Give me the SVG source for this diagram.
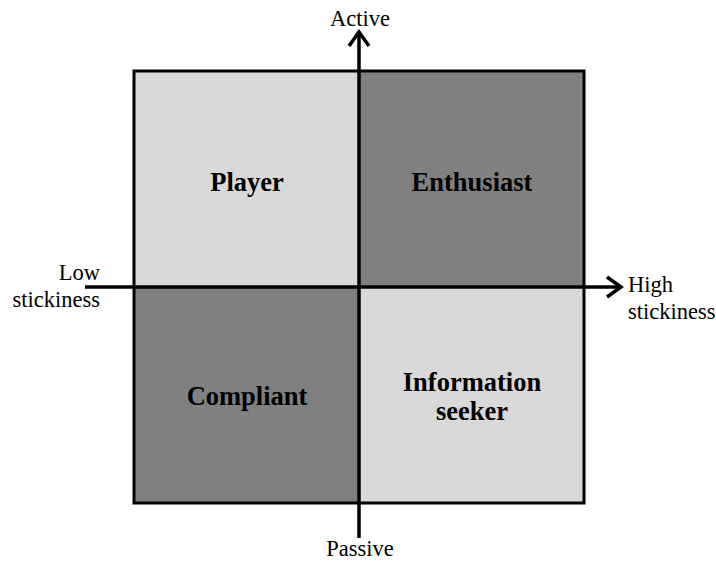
<svg xmlns="http://www.w3.org/2000/svg" width="716" height="561" viewBox="0 0 716 561">
<style>
.ax{font-family:"Liberation Serif",serif;font-size:22.5px;fill:#000}
.lb{font-family:"Liberation Serif",serif;font-size:26.5px;font-weight:bold;fill:#000;text-anchor:middle}
.light{fill:#d9d9d9}
.dark{fill:#808080}
.ln{stroke:#000;stroke-width:3.5;fill:none}
</style>
<g id="player"><rect class="light" x="134" y="71" width="225" height="216"/><text class="lb" x="247" y="191">Player</text></g>
<g id="enthusiast"><rect class="dark" x="359" y="71" width="225" height="216"/><text class="lb" x="472" y="191">Enthusiast</text></g>
<g id="compliant"><rect class="dark" x="134" y="287" width="225" height="216"/><text class="lb" x="247" y="405">Compliant</text></g>
<g id="info"><rect class="light" x="359" y="287" width="225" height="216"/><text class="lb" x="472" y="391">Information</text><text class="lb" x="472" y="420">seeker</text></g>
<rect x="134" y="71" width="450" height="432" fill="none" stroke="#000" stroke-width="3"/>
<g id="connectors">
<path class="ln" d="M359,538 L359,34"/>
<path d="M349,46 L359,32 L369,46" fill="none" stroke="#000" stroke-width="3.5"/>
<path class="ln" d="M85,287 L619,287"/>
<path d="M607,277 L621,287 L607,297" fill="none" stroke="#000" stroke-width="3.5"/>
</g>
<g id="labels">
<text class="ax" x="360" y="26" text-anchor="middle">Active</text>
<text class="ax" x="360" y="556" text-anchor="middle">Passive</text>
<text class="ax" x="100" y="280" text-anchor="end">Low</text>
<text class="ax" x="100" y="307" text-anchor="end">stickiness</text>
<text class="ax" x="628" y="292">High</text>
<text class="ax" x="628" y="319">stickiness</text>
</g>
</svg>
